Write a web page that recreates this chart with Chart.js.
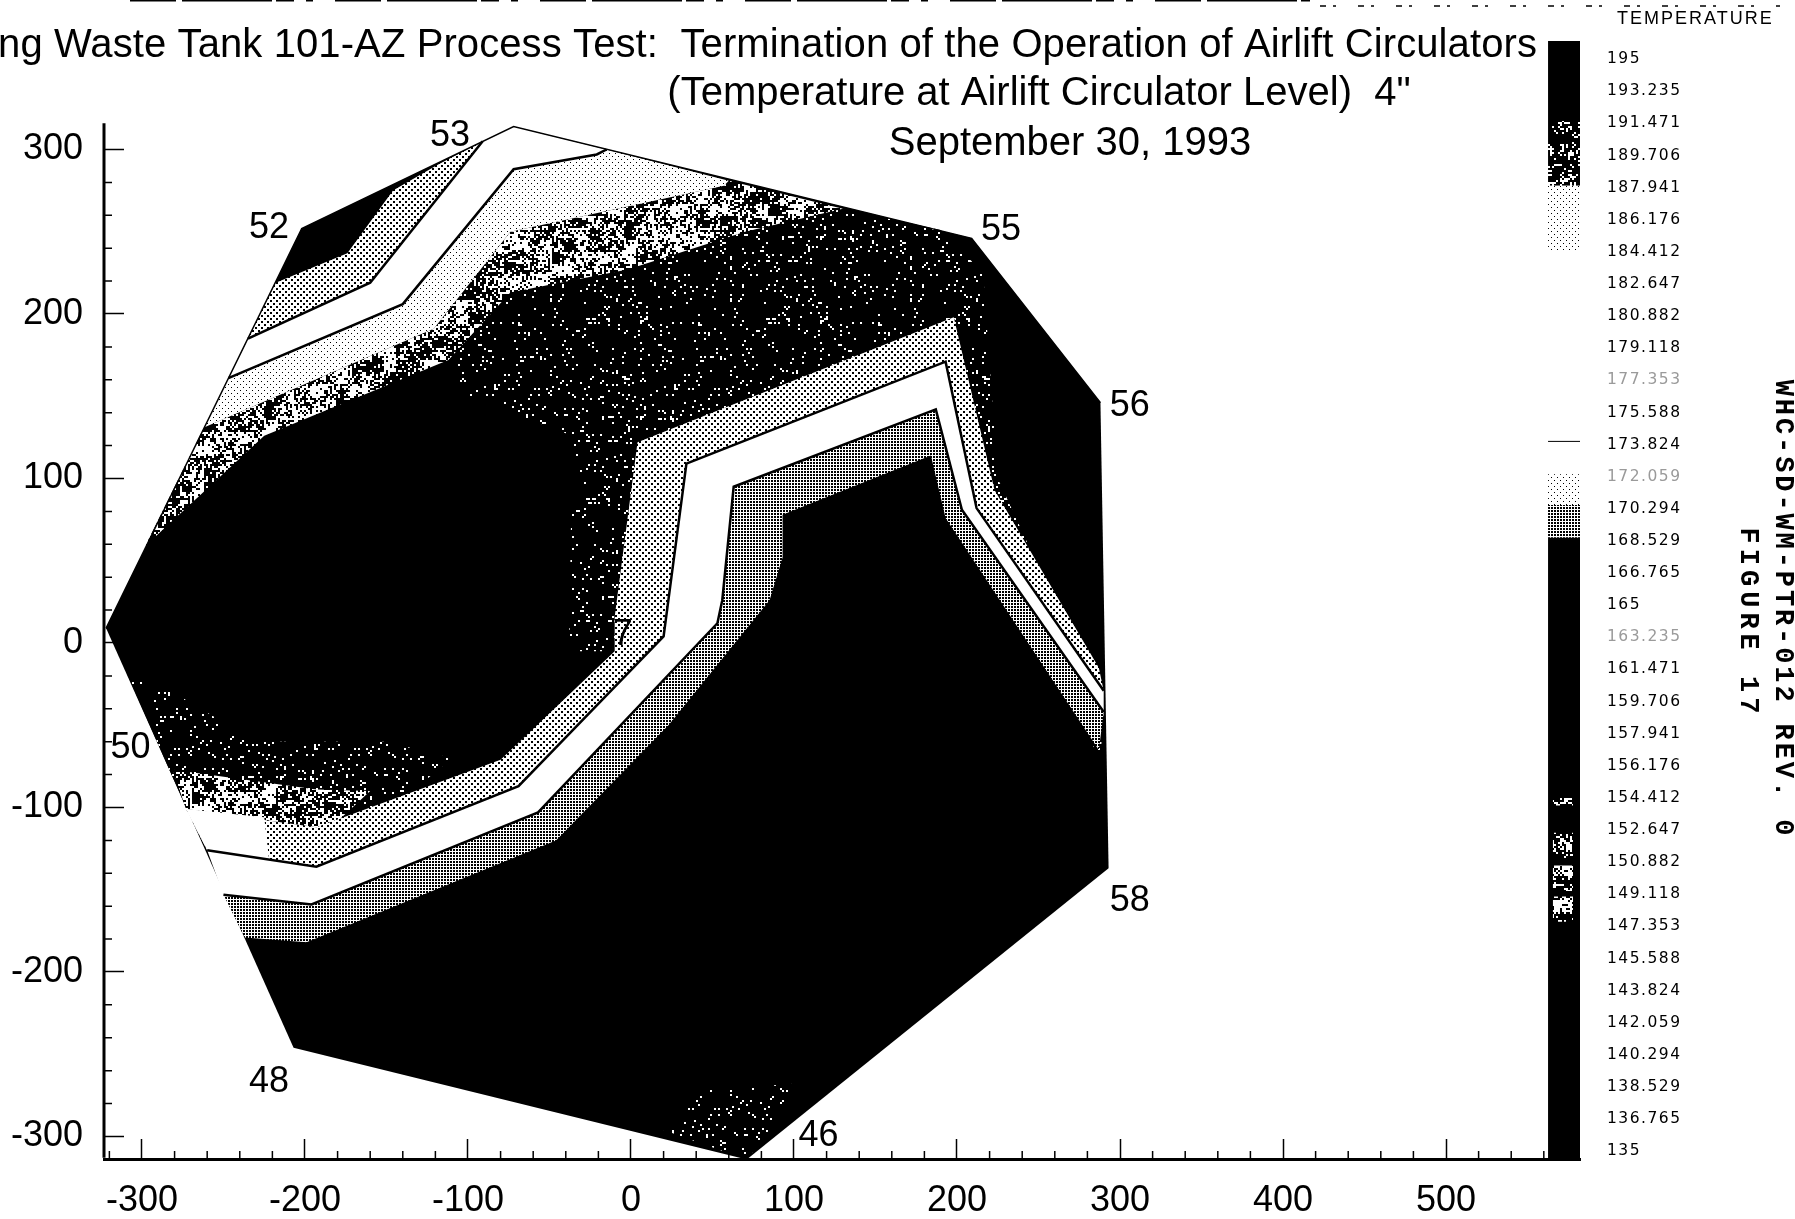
<!DOCTYPE html>
<html>
<head>
<meta charset="utf-8">
<title>Figure 17</title>
<script src="https://cdn.jsdelivr.net/npm/chart.js@4"></script>
<style>
  html, body { margin: 0; padding: 0; background: #fff; overflow: hidden; }
  canvas { display: block; }
</style>
</head>
<body>
<canvas id="tankChart" width="1795" height="1219"></canvas>
<script>
const xTicks = [-300, -200, -100, 0, 100, 200, 300, 400, 500];
const yTicks = [-300, -200, -100, 0, 100, 200, 300];
const xMinorTicks = [-320, -280, -260, -240, -220, -180, -160, -140, -120, -80, -60, -40, -20, 20, 40, 60, 80, 120, 140, 160, 180, 220, 240, 260, 280, 320, 340, 360, 380, 420, 440, 460, 480, 520, 540, 560];
const yMinorTicks = [-280, -260, -240, -220, -180, -160, -140, -120, -80, -60, -40, -20, 20, 40, 60, 80, 120, 140, 160, 180, 220, 240, 260, 280];
const tempTicks = [195, 193.235, 191.471, 189.706, 187.941, 186.176, 184.412, 182.647, 180.882, 179.118, 177.353, 175.588, 173.824, 172.059, 170.294, 168.529, 166.765, 165, 163.235, 161.471, 159.706, 157.941, 156.176, 154.412, 152.647, 150.882, 149.118, 147.353, 145.588, 143.824, 142.059, 140.294, 138.529, 136.765, 135];
const fadedTemps = [177.353, 172.059, 163.235];

const titleLines = ['ng Waste Tank 101-AZ Process Test:  Termination of the Operation of Airlift Circulators', '(Temperature at Airlift Circulator Level)  4"', 'September 30, 1993'];

// thermocouple tree numbers in tank coordinates
const nodeNames = ['52', '53', '55', '56', '58', '46', '48', '50', '7'];
const nodeX = [-222, -111, 227, 306, 306, 115, -222, -307, -5];
const nodeY = [252, 308, 251, 144, -157, -300, -267, -64, 5];

// tank outline
const tankOutline = [[-322, 9], [-202, 252], [-72, 314], [209, 246], [288, 146], [293, -137], [71, -314], [-207, -246]];
const tankUpperEdge = [[-322, 9], [-202, 252], [-72, 314], [209, 246], [288, 146]];

// contour boundaries, left to right across the tank
const cornerLine = [[-218, 219], [-174, 237], [-146, 275], [-118, 291]];
const line1 = [[-235, 185], [-160, 219], [-91, 305]];
const line2 = [[-247, 161], [-140, 206], [-72, 288], [-21, 297], [-15, 300]];
const line3 = [[-262, 131], [-121, 191], [-74, 250], [57, 278], [60, 281]];
const line4 = [[-298, 59], [-225, 126], [-112, 172], [-74, 213], [-2, 227], [70, 250], [130, 264]];
const line5 = [[-273, -101], [-193, -112], [-80, -71], [-10, -5], [-10, 16], [4, 122], [198, 198], [223, 93], [287, -15]];
const line6 = [[-260, -126], [-193, -136], [-69, -87], [20, 4], [34, 109], [193, 171], [212, 82], [290, -29]];
const line7 = [[-250, -153], [-196, -159], [-57, -103], [53, 12], [56, 26], [63, 95], [187, 142], [203, 81], [290, -42]];
const line8 = [[-237, -179], [-199, -182], [-46, -120], [23, -50], [85, 26], [93, 52], [93, 78], [184, 114], [193, 76], [287, -65]];

// speckled patches of the scan
const sparseUpper = [[-112, 172], [-74, 213], [-2, 227], [70, 250], [130, 264], [190, 251], [216, 225], [225, 100], [290, -40], [288, -70], [282, -60], [223, 93], [198, 198], [4, 122], [-9, -5], [-38, -5], [-36, 126], [-100, 150]];
const sparseLower = [[-309, -19], [-281, -30], [-230, -60], [-150, -60], [-110, -70], [-140, -95], [-184, -112], [-273, -100]];
const heavyLower = [[-281, -77], [-193, -89], [-160, -90], [-184, -112], [-193, -112], [-273, -101]];
const whiteCorner = [[-273, -101], [-225, -106], [-222, -132], [-260, -126]];
const bottomSpeckle = [[71, -314], [20, -296], [45, -272], [100, -268], [88, -292]];

// colour bar, temperatures of the band edges
const barEdgesX = [562.6, 582.2];
const barBlackTop = [196, 191.6];
const barSpeckle = [191.6, 188.05];
const barLightTop = [188.05, 184.5];
const barLightLow = [172.2, 170.5];
const barDense = [170.5, 168.7];
const barBlackLow = [168.7, 134.3];
const barRule = [174, 174];
const barBlobsX = [565.6, 577.9];
const barBlobs = [[154.4, 154.0], [152.5, 151.1], [150.7, 149.3], [149.0, 147.6]];

function tile(size, paint) {
  const c = document.createElement('canvas');
  c.width = size;
  c.height = size;
  const g = c.getContext('2d');
  paint(g);
  return g.createPattern(c, 'repeat');
}

function dots(period, dot) {
  return tile(period * 2, g => {
    g.fillStyle = '#fff';
    g.fillRect(0, 0, period * 2, period * 2);
    g.fillStyle = '#000';
    g.fillRect(0, 0, dot, dot);
    g.fillRect(period, period, dot, dot);
  });
}

function lattice(period, dot) {
  return tile(period, g => {
    g.fillStyle = '#fff';
    g.fillRect(0, 0, period, period);
    g.fillStyle = '#000';
    g.fillRect(0, 0, dot, dot);
  });
}

function mix(a, b) {
  let h = Math.imul(a + 1, 73856093) ^ Math.imul(b + 1, 19349663);
  h = Math.imul(h ^ (h >>> 13), 1274126177);
  return (h ^ (h >>> 16)) >>> 0;
}

function speckle(density, cell) {
  const size = 180;
  return tile(size, g => {
    g.fillStyle = '#000';
    g.fillRect(0, 0, size, size);
    g.fillStyle = '#fff';
    const n = size / cell;
    for (let i = 0; i < n; i++) {
      for (let j = 0; j < n; j++) {
        const blotch = mix(Math.floor(i / 6), Math.floor(j / 6)) % 100;
        const local = density * (0.3 + blotch / 60);
        if (mix(i, j) % 1000 < local * 1000) g.fillRect(i * cell, j * cell, cell, cell);
      }
    }
  });
}

const lightStipple = dots(3, 1);
const midStipple = dots(3, 2);
const denseStipple = lattice(3, 2);
const heavySpeckle = speckle(0.42, 2);
const barSpeckleFill = speckle(0.2, 2);
const sparseSpeckle = speckle(0.05, 2);

function points(pairs) {
  return pairs.map(p => ({ x: p[0], y: p[1] }));
}

function back(pairs) {
  return pairs.slice().reverse();
}

function area(pairs, fillStyle, axis) {
  return {
    data: points(pairs),
    showLine: true,
    fill: 'shape',
    backgroundColor: fillStyle,
    borderWidth: 0,
    pointRadius: 0,
    clip: false,
    yAxisID: axis || 'y'
  };
}

function stroke(pairs, width, axis) {
  return {
    data: points(pairs),
    showLine: true,
    fill: false,
    borderColor: '#000',
    borderWidth: width,
    pointRadius: 0,
    clip: false,
    yAxisID: axis || 'y'
  };
}

function barBand(range, fillStyle) {
  return area([[barEdgesX[0], range[0]], [barEdgesX[1], range[0]], [barEdgesX[1], range[1]], [barEdgesX[0], range[1]]], fillStyle, 'temp');
}

function blob(range) {
  return area([[barBlobsX[0], range[0]], [barBlobsX[1], range[0]], [barBlobsX[1], range[1]], [barBlobsX[0], range[1]]], heavySpeckle, 'temp');
}

// painted first to last
const layers = [
  area(tankOutline, '#000'),
  area(sparseUpper, sparseSpeckle),
  area(sparseLower, sparseSpeckle),
  area(heavyLower, heavySpeckle),
  area(bottomSpeckle, sparseSpeckle),
  area([...line3, ...back(line4)], heavySpeckle),
  area([...line2, ...back(line3)], lightStipple),
  area([...line1, [-72, 314], ...back(line2)], '#fff'),
  area([...cornerLine, ...back(line1)], midStipple),
  area([...line5, ...back(line6)], midStipple),
  area(whiteCorner, '#fff'),
  area([...line6, ...back(line7)], '#fff'),
  area([...line7, ...back(line8)], denseStipple),
  stroke(line1, 2.5),
  stroke(line2, 2.5),
  stroke(line6, 2.5),
  stroke(line7, 2.5),
  stroke(tankUpperEdge, 1.5),
  stroke([[-323.3, -313], [-323.3, 316]], 3),
  barBand(barBlackTop, '#000'),
  barBand(barSpeckle, barSpeckleFill),
  barBand(barLightTop, lightStipple),
  barBand(barLightLow, lightStipple),
  barBand(barDense, denseStipple),
  barBand(barBlackLow, '#000'),
  stroke([[barEdgesX[0], barRule[0]], [barEdgesX[1], barRule[1]]], 1, 'temp'),
  ...barBlobs.map(blob)
];
layers.forEach((d, i) => { d.order = layers.length - i; });

const figureText = {
  id: 'figureText',
  afterDatasetsDraw(chart) {
    // only the temperature ticks are drawn after the datasets
    chart.ctx.letterSpacing = '1.5px';
  },
  afterDraw(chart) {
    const { ctx, scales } = chart;
    ctx.letterSpacing = '0px';
    ctx.save();
    ctx.fillStyle = '#000';
    ctx.strokeStyle = '#000';

    // minor ticks
    ctx.lineWidth = 1.5;
    ctx.beginPath();
    xMinorTicks.forEach(v => {
      const px = scales.x.getPixelForValue(v);
      ctx.moveTo(px, scales.x.top);
      ctx.lineTo(px, scales.x.top - 8);
    });
    yMinorTicks.forEach(v => {
      const py = scales.y.getPixelForValue(v);
      ctx.moveTo(scales.x.left, py);
      ctx.lineTo(scales.x.left + 8, py);
    });
    ctx.stroke();

    // scan noise along the top edge
    ctx.lineWidth = 2;
    ctx.setLineDash([46, 6, 90, 4, 18, 12, 7, 22]);
    ctx.beginPath();
    ctx.moveTo(130, 0.5);
    ctx.lineTo(1310, 0.5);
    ctx.stroke();
    ctx.lineWidth = 1.5;
    ctx.setLineDash([6, 7, 3, 22]);
    ctx.beginPath();
    ctx.moveTo(1320, 6);
    ctx.lineTo(1780, 6);
    ctx.stroke();
    ctx.setLineDash([]);

    ctx.textBaseline = 'alphabetic';
    ctx.font = '40px "Liberation Sans"';
    ctx.textAlign = 'right';
    ctx.letterSpacing = '0.1px';
    ctx.fillText(titleLines[0], 1537, 57);
    ctx.letterSpacing = '0px';
    ctx.textAlign = 'center';
    ctx.fillText(titleLines[1], 1039, 105);
    ctx.fillText(titleLines[2], 1070, 155);

    ctx.font = '36px "Liberation Sans"';
    ctx.textBaseline = 'middle';
    nodeNames.forEach((name, i) => {
      ctx.fillText(name, scales.x.getPixelForValue(nodeX[i]), scales.y.getPixelForValue(nodeY[i]));
    });

    ctx.font = '18px "Liberation Sans"';
    ctx.letterSpacing = '2px';
    ctx.textAlign = 'left';
    ctx.fillText('TEMPERATURE', 1617, 19);

    ctx.font = 'bold 27px "Liberation Mono"';
    ctx.textAlign = 'center';
    ctx.translate(1783, 609);
    ctx.rotate(Math.PI / 2);
    ctx.letterSpacing = '2.9px';
    ctx.fillText('WHC-SD-WM-PTR-012 REV. 0', 0, 0);
    ctx.letterSpacing = '5px';
    ctx.fillText('FIGURE 17', 14, 35);
    ctx.restore();
    ctx.letterSpacing = '0px';
  }
};

const numberFont = { family: '"Liberation Sans"', size: 36 };

function noMargins(s) {
  s.paddingLeft = 0;
  s.paddingRight = 0;
  s.paddingTop = 0;
  s.paddingBottom = 0;
}

new Chart(document.getElementById('tankChart'), {
  type: 'scatter',
  data: { datasets: layers },
  plugins: [figureText],
  options: {
    responsive: false,
    animation: false,
    layout: { padding: { top: 41, left: 0, right: 0, bottom: 0 } },
    plugins: { legend: { display: false }, tooltip: { enabled: false }, title: { display: false } },
    scales: {
      x: {
        type: 'linear',
        min: -323.3,
        max: 582.2,
        afterBuildTicks: s => { s.ticks = xTicks.map(value => ({ value })); },
        afterFit: s => { s.height = 60; noMargins(s); },
        border: { color: '#000', width: 3 },
        grid: { drawOnChartArea: false, tickLength: -20, tickColor: '#000', tickWidth: 1.5 },
        ticks: { color: '#000', font: numberFont, padding: 40, maxRotation: 0, autoSkip: false }
      },
      y: {
        type: 'linear',
        min: -313.7,
        max: 365.96,
        afterBuildTicks: s => { s.ticks = yTicks.map(value => ({ value })); },
        afterFit: s => { s.width = 104; noMargins(s); },
        border: { display: false },
        grid: { drawOnChartArea: false, tickLength: -20, tickColor: '#000', tickWidth: 1.5 },
        ticks: { color: '#000', font: numberFont, padding: 41, autoSkip: false }
      },
      temp: {
        type: 'linear',
        position: 'right',
        min: 134.57,
        max: 196,
        afterBuildTicks: s => { s.ticks = tempTicks.map(value => ({ value })); },
        afterFit: s => { s.width = 215; noMargins(s); },
        border: { display: false },
        grid: { drawOnChartArea: false, drawTicks: false },
        ticks: {
          z: 1,
          autoSkip: false,
          padding: 27,
          font: { family: '"DejaVu Sans"', size: 15.5 },
          color: c => fadedTemps.includes(c.tick.value) ? '#9a9a9a' : '#000',
          callback: v => String(v)
        }
      }
    }
  }
});
</script>
</body>
</html>
